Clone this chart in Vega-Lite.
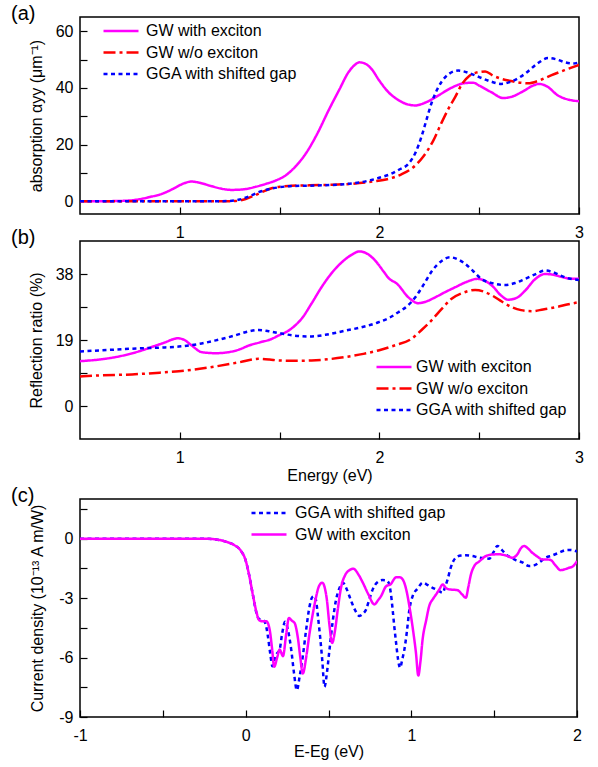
{
  "$schema": "https://vega.github.io/schema/vega-lite/v6.json",
  "background": "white",
  "padding": {"left": 10, "top": 3, "right": 5, "bottom": 5},
  "bounds": "flush",
  "spacing": 27,
  "config": {
    "font": "Liberation Sans",
    "view": {"stroke": "black", "strokeWidth": 1.5},
    "axis": {"labelFont": "Liberation Sans", "titleFont": "Liberation Sans", "labelFontSize": 16, "titleFontSize": 16, "titleFontWeight": "normal", "labelColor": "black", "titleColor": "black", "domain": false, "grid": false, "tickColor": "black", "tickSize": -7, "tickWidth": 1.2},
    "axisY": {"labelPadding": 14, "titlePadding": 11},
    "axisX": {"labelPadding": 17, "titlePadding": 2, "labelFlush": false},
    "legend": {"title": null, "orient": "none", "labelFont": "Liberation Sans", "labelFontSize": 16, "labelColor": "black", "symbolType": "M-3.5,0H3.5", "symbolSize": 100, "symbolStrokeWidth": 2.5, "rowPadding": 5.5, "padding": 0},
    "title": {"font": "Liberation Sans", "fontSize": 20, "fontWeight": "normal", "color": "black", "anchor": "start", "frame": "group"}
  },
  "datasets": {
    "a": [
      {"E":0.5,"v":0,"s":"GW with exciton"},{"E":0.6,"v":0,"s":"GW with exciton"},{"E":0.7,"v":0.1,"s":"GW with exciton"},{"E":0.78,"v":0.5,"s":"GW with exciton"},{"E":0.85,"v":1.5,"s":"GW with exciton"},{"E":0.91,"v":2.6,"s":"GW with exciton"},{"E":0.97,"v":4.5,"s":"GW with exciton"},{"E":1.02,"v":6.3,"s":"GW with exciton"},{"E":1.06,"v":6.95,"s":"GW with exciton"},{"E":1.1,"v":6.5,"s":"GW with exciton"},{"E":1.16,"v":5.3,"s":"GW with exciton"},{"E":1.21,"v":4.4,"s":"GW with exciton"},{"E":1.26,"v":4.0,"s":"GW with exciton"},{"E":1.32,"v":4.2,"s":"GW with exciton"},{"E":1.38,"v":5.1,"s":"GW with exciton"},{"E":1.43,"v":6.1,"s":"GW with exciton"},{"E":1.48,"v":7.3,"s":"GW with exciton"},{"E":1.53,"v":9.1,"s":"GW with exciton"},{"E":1.58,"v":12.3,"s":"GW with exciton"},{"E":1.63,"v":16.7,"s":"GW with exciton"},{"E":1.69,"v":24,"s":"GW with exciton"},{"E":1.745,"v":32,"s":"GW with exciton"},{"E":1.8,"v":39.5,"s":"GW with exciton"},{"E":1.845,"v":45.5,"s":"GW with exciton"},{"E":1.875,"v":48,"s":"GW with exciton"},{"E":1.9,"v":49,"s":"GW with exciton"},{"E":1.93,"v":48.5,"s":"GW with exciton"},{"E":1.96,"v":46.7,"s":"GW with exciton"},{"E":2.0,"v":42.5,"s":"GW with exciton"},{"E":2.045,"v":38.5,"s":"GW with exciton"},{"E":2.1,"v":35.5,"s":"GW with exciton"},{"E":2.14,"v":34.2,"s":"GW with exciton"},{"E":2.18,"v":33.8,"s":"GW with exciton"},{"E":2.23,"v":34.8,"s":"GW with exciton"},{"E":2.295,"v":37.3,"s":"GW with exciton"},{"E":2.36,"v":40,"s":"GW with exciton"},{"E":2.43,"v":41.7,"s":"GW with exciton"},{"E":2.47,"v":41.8,"s":"GW with exciton"},{"E":2.5,"v":40.8,"s":"GW with exciton"},{"E":2.56,"v":38.5,"s":"GW with exciton"},{"E":2.62,"v":36.4,"s":"GW with exciton"},{"E":2.66,"v":36.8,"s":"GW with exciton"},{"E":2.72,"v":38.8,"s":"GW with exciton"},{"E":2.77,"v":40.8,"s":"GW with exciton"},{"E":2.8,"v":41.4,"s":"GW with exciton"},{"E":2.84,"v":40.5,"s":"GW with exciton"},{"E":2.895,"v":37.3,"s":"GW with exciton"},{"E":2.95,"v":35.8,"s":"GW with exciton"},{"E":3.0,"v":35.3,"s":"GW with exciton"},
      {"E":0.5,"v":0,"s":"GW w/o exciton"},{"E":1.0,"v":0,"s":"GW w/o exciton"},{"E":1.2,"v":0,"s":"GW w/o exciton"},{"E":1.28,"v":0.1,"s":"GW w/o exciton"},{"E":1.33,"v":0.8,"s":"GW w/o exciton"},{"E":1.38,"v":2.2,"s":"GW w/o exciton"},{"E":1.42,"v":3.5,"s":"GW w/o exciton"},{"E":1.46,"v":4.6,"s":"GW w/o exciton"},{"E":1.51,"v":5.2,"s":"GW w/o exciton"},{"E":1.56,"v":5.5,"s":"GW w/o exciton"},{"E":1.65,"v":5.6,"s":"GW w/o exciton"},{"E":1.75,"v":5.8,"s":"GW w/o exciton"},{"E":1.85,"v":6.1,"s":"GW w/o exciton"},{"E":1.9,"v":6.4,"s":"GW w/o exciton"},{"E":1.97,"v":7.0,"s":"GW w/o exciton"},{"E":2.045,"v":7.9,"s":"GW w/o exciton"},{"E":2.11,"v":9.5,"s":"GW w/o exciton"},{"E":2.17,"v":12,"s":"GW w/o exciton"},{"E":2.22,"v":15.8,"s":"GW w/o exciton"},{"E":2.27,"v":21.4,"s":"GW w/o exciton"},{"E":2.31,"v":27.5,"s":"GW w/o exciton"},{"E":2.345,"v":32.5,"s":"GW w/o exciton"},{"E":2.38,"v":36.8,"s":"GW w/o exciton"},{"E":2.415,"v":41.5,"s":"GW w/o exciton"},{"E":2.45,"v":44.2,"s":"GW w/o exciton"},{"E":2.5,"v":45.6,"s":"GW w/o exciton"},{"E":2.53,"v":45.8,"s":"GW w/o exciton"},{"E":2.57,"v":44.3,"s":"GW w/o exciton"},{"E":2.61,"v":43.2,"s":"GW w/o exciton"},{"E":2.66,"v":42.4,"s":"GW w/o exciton"},{"E":2.745,"v":41.6,"s":"GW w/o exciton"},{"E":2.8,"v":42.6,"s":"GW w/o exciton"},{"E":2.86,"v":44.4,"s":"GW w/o exciton"},{"E":2.93,"v":46.3,"s":"GW w/o exciton"},{"E":3.0,"v":48.1,"s":"GW w/o exciton"},
      {"E":0.5,"v":0,"s":"GGA with shifted gap"},{"E":1.2,"v":0,"s":"GGA with shifted gap"},{"E":1.25,"v":0.1,"s":"GGA with shifted gap"},{"E":1.3,"v":0.6,"s":"GGA with shifted gap"},{"E":1.35,"v":1.8,"s":"GGA with shifted gap"},{"E":1.395,"v":3.2,"s":"GGA with shifted gap"},{"E":1.45,"v":4.3,"s":"GGA with shifted gap"},{"E":1.495,"v":4.9,"s":"GGA with shifted gap"},{"E":1.55,"v":5.3,"s":"GGA with shifted gap"},{"E":1.65,"v":5.5,"s":"GGA with shifted gap"},{"E":1.75,"v":5.7,"s":"GGA with shifted gap"},{"E":1.85,"v":6.2,"s":"GGA with shifted gap"},{"E":1.9,"v":6.6,"s":"GGA with shifted gap"},{"E":1.96,"v":7.5,"s":"GGA with shifted gap"},{"E":2.01,"v":8.5,"s":"GGA with shifted gap"},{"E":2.06,"v":9.7,"s":"GGA with shifted gap"},{"E":2.1,"v":11.2,"s":"GGA with shifted gap"},{"E":2.145,"v":13.2,"s":"GGA with shifted gap"},{"E":2.18,"v":17,"s":"GGA with shifted gap"},{"E":2.21,"v":22.6,"s":"GGA with shifted gap"},{"E":2.235,"v":28.5,"s":"GGA with shifted gap"},{"E":2.26,"v":34.4,"s":"GGA with shifted gap"},{"E":2.29,"v":39.5,"s":"GGA with shifted gap"},{"E":2.31,"v":42,"s":"GGA with shifted gap"},{"E":2.35,"v":45,"s":"GGA with shifted gap"},{"E":2.395,"v":46.1,"s":"GGA with shifted gap"},{"E":2.45,"v":45.2,"s":"GGA with shifted gap"},{"E":2.5,"v":43.8,"s":"GGA with shifted gap"},{"E":2.56,"v":42.2,"s":"GGA with shifted gap"},{"E":2.61,"v":41.4,"s":"GGA with shifted gap"},{"E":2.67,"v":42.5,"s":"GGA with shifted gap"},{"E":2.73,"v":45,"s":"GGA with shifted gap"},{"E":2.79,"v":48.5,"s":"GGA with shifted gap"},{"E":2.845,"v":50.5,"s":"GGA with shifted gap"},{"E":2.89,"v":50,"s":"GGA with shifted gap"},{"E":2.93,"v":49,"s":"GGA with shifted gap"},{"E":2.97,"v":48.6,"s":"GGA with shifted gap"},{"E":3.0,"v":49,"s":"GGA with shifted gap"}
    ],
    "b": [
      {"E":0.5,"v":12.9,"s":"GW with exciton"},{"E":0.6,"v":13.4,"s":"GW with exciton"},{"E":0.68,"v":14.1,"s":"GW with exciton"},{"E":0.75,"v":15,"s":"GW with exciton"},{"E":0.81,"v":16,"s":"GW with exciton"},{"E":0.87,"v":17.2,"s":"GW with exciton"},{"E":0.93,"v":18.4,"s":"GW with exciton"},{"E":0.97,"v":19.3,"s":"GW with exciton"},{"E":0.99,"v":19.5,"s":"GW with exciton"},{"E":1.02,"v":19.1,"s":"GW with exciton"},{"E":1.06,"v":17.4,"s":"GW with exciton"},{"E":1.11,"v":15.5,"s":"GW with exciton"},{"E":1.18,"v":15.2,"s":"GW with exciton"},{"E":1.245,"v":15.5,"s":"GW with exciton"},{"E":1.3,"v":16.3,"s":"GW with exciton"},{"E":1.345,"v":17.4,"s":"GW with exciton"},{"E":1.4,"v":18.3,"s":"GW with exciton"},{"E":1.46,"v":19.3,"s":"GW with exciton"},{"E":1.495,"v":20.3,"s":"GW with exciton"},{"E":1.545,"v":21.7,"s":"GW with exciton"},{"E":1.58,"v":23.3,"s":"GW with exciton"},{"E":1.61,"v":25.1,"s":"GW with exciton"},{"E":1.66,"v":29.5,"s":"GW with exciton"},{"E":1.71,"v":34.2,"s":"GW with exciton"},{"E":1.76,"v":38.2,"s":"GW with exciton"},{"E":1.81,"v":41.3,"s":"GW with exciton"},{"E":1.86,"v":43.5,"s":"GW with exciton"},{"E":1.9,"v":44.5,"s":"GW with exciton"},{"E":1.94,"v":43.8,"s":"GW with exciton"},{"E":1.98,"v":41.8,"s":"GW with exciton"},{"E":2.02,"v":38.8,"s":"GW with exciton"},{"E":2.045,"v":36.9,"s":"GW with exciton"},{"E":2.09,"v":35.1,"s":"GW with exciton"},{"E":2.145,"v":31.3,"s":"GW with exciton"},{"E":2.195,"v":29.6,"s":"GW with exciton"},{"E":2.24,"v":30.2,"s":"GW with exciton"},{"E":2.28,"v":31.3,"s":"GW with exciton"},{"E":2.33,"v":32.8,"s":"GW with exciton"},{"E":2.38,"v":34.2,"s":"GW with exciton"},{"E":2.44,"v":35.8,"s":"GW with exciton"},{"E":2.49,"v":36.6,"s":"GW with exciton"},{"E":2.53,"v":36.0,"s":"GW with exciton"},{"E":2.565,"v":34.6,"s":"GW with exciton"},{"E":2.61,"v":31.8,"s":"GW with exciton"},{"E":2.645,"v":30.6,"s":"GW with exciton"},{"E":2.69,"v":31.2,"s":"GW with exciton"},{"E":2.73,"v":33.2,"s":"GW with exciton"},{"E":2.78,"v":36.5,"s":"GW with exciton"},{"E":2.83,"v":38,"s":"GW with exciton"},{"E":2.87,"v":37.8,"s":"GW with exciton"},{"E":2.91,"v":37.2,"s":"GW with exciton"},{"E":2.95,"v":36.7,"s":"GW with exciton"},{"E":3.0,"v":36.6,"s":"GW with exciton"},
      {"E":0.5,"v":8.5,"s":"GW w/o exciton"},{"E":0.6,"v":8.8,"s":"GW w/o exciton"},{"E":0.76,"v":9.1,"s":"GW w/o exciton"},{"E":0.9,"v":9.6,"s":"GW w/o exciton"},{"E":0.995,"v":10,"s":"GW w/o exciton"},{"E":1.1,"v":10.7,"s":"GW w/o exciton"},{"E":1.18,"v":11.4,"s":"GW w/o exciton"},{"E":1.3,"v":12.6,"s":"GW w/o exciton"},{"E":1.395,"v":13.6,"s":"GW w/o exciton"},{"E":1.45,"v":13.4,"s":"GW w/o exciton"},{"E":1.495,"v":13.1,"s":"GW w/o exciton"},{"E":1.58,"v":13.0,"s":"GW w/o exciton"},{"E":1.66,"v":13.1,"s":"GW w/o exciton"},{"E":1.75,"v":13.5,"s":"GW w/o exciton"},{"E":1.83,"v":14.1,"s":"GW w/o exciton"},{"E":1.92,"v":15,"s":"GW w/o exciton"},{"E":1.995,"v":16,"s":"GW w/o exciton"},{"E":2.08,"v":17.5,"s":"GW w/o exciton"},{"E":2.16,"v":19.3,"s":"GW w/o exciton"},{"E":2.21,"v":21.8,"s":"GW w/o exciton"},{"E":2.26,"v":24.6,"s":"GW w/o exciton"},{"E":2.31,"v":27.8,"s":"GW w/o exciton"},{"E":2.36,"v":30.8,"s":"GW w/o exciton"},{"E":2.42,"v":32.6,"s":"GW w/o exciton"},{"E":2.48,"v":33.4,"s":"GW w/o exciton"},{"E":2.52,"v":33,"s":"GW w/o exciton"},{"E":2.565,"v":31.8,"s":"GW w/o exciton"},{"E":2.615,"v":30,"s":"GW w/o exciton"},{"E":2.665,"v":28.4,"s":"GW w/o exciton"},{"E":2.71,"v":27.6,"s":"GW w/o exciton"},{"E":2.765,"v":27.3,"s":"GW w/o exciton"},{"E":2.82,"v":27.8,"s":"GW w/o exciton"},{"E":2.88,"v":28.4,"s":"GW w/o exciton"},{"E":2.94,"v":29.2,"s":"GW w/o exciton"},{"E":3.0,"v":29.9,"s":"GW w/o exciton"},
      {"E":0.5,"v":15.7,"s":"GGA with shifted gap"},{"E":0.6,"v":16,"s":"GGA with shifted gap"},{"E":0.76,"v":16.5,"s":"GGA with shifted gap"},{"E":0.9,"v":16.8,"s":"GGA with shifted gap"},{"E":0.995,"v":17.1,"s":"GGA with shifted gap"},{"E":1.1,"v":17.9,"s":"GGA with shifted gap"},{"E":1.18,"v":18.9,"s":"GGA with shifted gap"},{"E":1.27,"v":20.2,"s":"GGA with shifted gap"},{"E":1.34,"v":21.4,"s":"GGA with shifted gap"},{"E":1.395,"v":21.9,"s":"GGA with shifted gap"},{"E":1.44,"v":21.6,"s":"GGA with shifted gap"},{"E":1.495,"v":21,"s":"GGA with shifted gap"},{"E":1.57,"v":20.3,"s":"GGA with shifted gap"},{"E":1.645,"v":20,"s":"GGA with shifted gap"},{"E":1.73,"v":20.5,"s":"GGA with shifted gap"},{"E":1.83,"v":21.7,"s":"GGA with shifted gap"},{"E":1.92,"v":22.8,"s":"GGA with shifted gap"},{"E":1.995,"v":24.1,"s":"GGA with shifted gap"},{"E":2.05,"v":25.4,"s":"GGA with shifted gap"},{"E":2.095,"v":27,"s":"GGA with shifted gap"},{"E":2.14,"v":28.8,"s":"GGA with shifted gap"},{"E":2.18,"v":31.3,"s":"GGA with shifted gap"},{"E":2.22,"v":34.8,"s":"GGA with shifted gap"},{"E":2.265,"v":39,"s":"GGA with shifted gap"},{"E":2.31,"v":41.7,"s":"GGA with shifted gap"},{"E":2.355,"v":42.8,"s":"GGA with shifted gap"},{"E":2.39,"v":42.3,"s":"GGA with shifted gap"},{"E":2.43,"v":40.9,"s":"GGA with shifted gap"},{"E":2.47,"v":38.8,"s":"GGA with shifted gap"},{"E":2.51,"v":36.6,"s":"GGA with shifted gap"},{"E":2.57,"v":35.3,"s":"GGA with shifted gap"},{"E":2.63,"v":34.8,"s":"GGA with shifted gap"},{"E":2.68,"v":35.4,"s":"GGA with shifted gap"},{"E":2.73,"v":36.6,"s":"GGA with shifted gap"},{"E":2.78,"v":37.9,"s":"GGA with shifted gap"},{"E":2.83,"v":39,"s":"GGA with shifted gap"},{"E":2.87,"v":38.5,"s":"GGA with shifted gap"},{"E":2.91,"v":37.5,"s":"GGA with shifted gap"},{"E":2.95,"v":36.7,"s":"GGA with shifted gap"},{"E":3.0,"v":36.3,"s":"GGA with shifted gap"}
    ],
    "c": [
      {"E":-1,"v":0,"s":"GGA with shifted gap"},{"E":-0.5,"v":0,"s":"GGA with shifted gap"},{"E":-0.25,"v":0,"s":"GGA with shifted gap"},{"E":-0.18,"v":-0.04,"s":"GGA with shifted gap"},{"E":-0.12,"v":-0.15,"s":"GGA with shifted gap"},{"E":-0.07,"v":-0.32,"s":"GGA with shifted gap"},{"E":-0.03,"v":-0.6,"s":"GGA with shifted gap"},{"E":0.0,"v":-1.1,"s":"GGA with shifted gap"},{"E":0.02,"v":-1.8,"s":"GGA with shifted gap"},{"E":0.045,"v":-2.9,"s":"GGA with shifted gap"},{"E":0.065,"v":-3.75,"s":"GGA with shifted gap"},{"E":0.08,"v":-4.05,"s":"GGA with shifted gap"},{"E":0.104,"v":-4.1,"s":"GGA with shifted gap"},{"E":0.12,"v":-4.3,"s":"GGA with shifted gap"},{"E":0.134,"v":-4.92,"s":"GGA with shifted gap"},{"E":0.15,"v":-5.9,"s":"GGA with shifted gap"},{"E":0.161,"v":-6.44,"s":"GGA with shifted gap"},{"E":0.175,"v":-6.1,"s":"GGA with shifted gap"},{"E":0.185,"v":-5.85,"s":"GGA with shifted gap"},{"E":0.205,"v":-5.6,"s":"GGA with shifted gap"},{"E":0.22,"v":-4.8,"s":"GGA with shifted gap"},{"E":0.238,"v":-4.2,"s":"GGA with shifted gap"},{"E":0.255,"v":-4.6,"s":"GGA with shifted gap"},{"E":0.275,"v":-5.6,"s":"GGA with shifted gap"},{"E":0.292,"v":-6.8,"s":"GGA with shifted gap"},{"E":0.309,"v":-7.65,"s":"GGA with shifted gap"},{"E":0.325,"v":-7.0,"s":"GGA with shifted gap"},{"E":0.345,"v":-5.93,"s":"GGA with shifted gap"},{"E":0.365,"v":-4.6,"s":"GGA with shifted gap"},{"E":0.386,"v":-3.4,"s":"GGA with shifted gap"},{"E":0.402,"v":-2.95,"s":"GGA with shifted gap"},{"E":0.416,"v":-2.9,"s":"GGA with shifted gap"},{"E":0.428,"v":-3.3,"s":"GGA with shifted gap"},{"E":0.436,"v":-3.9,"s":"GGA with shifted gap"},{"E":0.45,"v":-5.0,"s":"GGA with shifted gap"},{"E":0.462,"v":-6.1,"s":"GGA with shifted gap"},{"E":0.476,"v":-7.48,"s":"GGA with shifted gap"},{"E":0.49,"v":-6.8,"s":"GGA with shifted gap"},{"E":0.506,"v":-5.6,"s":"GGA with shifted gap"},{"E":0.525,"v":-4.2,"s":"GGA with shifted gap"},{"E":0.546,"v":-3.07,"s":"GGA with shifted gap"},{"E":0.566,"v":-2.5,"s":"GGA with shifted gap"},{"E":0.586,"v":-2.22,"s":"GGA with shifted gap"},{"E":0.61,"v":-2.55,"s":"GGA with shifted gap"},{"E":0.637,"v":-3.15,"s":"GGA with shifted gap"},{"E":0.66,"v":-3.6,"s":"GGA with shifted gap"},{"E":0.687,"v":-3.9,"s":"GGA with shifted gap"},{"E":0.707,"v":-3.8,"s":"GGA with shifted gap"},{"E":0.727,"v":-3.57,"s":"GGA with shifted gap"},{"E":0.745,"v":-3.1,"s":"GGA with shifted gap"},{"E":0.767,"v":-2.56,"s":"GGA with shifted gap"},{"E":0.795,"v":-2.2,"s":"GGA with shifted gap"},{"E":0.827,"v":-2.09,"s":"GGA with shifted gap"},{"E":0.845,"v":-2.1,"s":"GGA with shifted gap"},{"E":0.863,"v":-2.22,"s":"GGA with shifted gap"},{"E":0.877,"v":-2.8,"s":"GGA with shifted gap"},{"E":0.887,"v":-3.57,"s":"GGA with shifted gap"},{"E":0.898,"v":-4.5,"s":"GGA with shifted gap"},{"E":0.908,"v":-5.26,"s":"GGA with shifted gap"},{"E":0.92,"v":-6.1,"s":"GGA with shifted gap"},{"E":0.932,"v":-6.52,"s":"GGA with shifted gap"},{"E":0.945,"v":-6.1,"s":"GGA with shifted gap"},{"E":0.958,"v":-5.6,"s":"GGA with shifted gap"},{"E":0.973,"v":-4.7,"s":"GGA with shifted gap"},{"E":0.988,"v":-3.6,"s":"GGA with shifted gap"},{"E":1.008,"v":-2.9,"s":"GGA with shifted gap"},{"E":1.04,"v":-2.5,"s":"GGA with shifted gap"},{"E":1.068,"v":-2.22,"s":"GGA with shifted gap"},{"E":1.1,"v":-2.35,"s":"GGA with shifted gap"},{"E":1.128,"v":-2.48,"s":"GGA with shifted gap"},{"E":1.16,"v":-2.6,"s":"GGA with shifted gap"},{"E":1.189,"v":-2.73,"s":"GGA with shifted gap"},{"E":1.205,"v":-2.4,"s":"GGA with shifted gap"},{"E":1.219,"v":-2.06,"s":"GGA with shifted gap"},{"E":1.235,"v":-1.55,"s":"GGA with shifted gap"},{"E":1.249,"v":-1.21,"s":"GGA with shifted gap"},{"E":1.27,"v":-0.95,"s":"GGA with shifted gap"},{"E":1.3,"v":-0.85,"s":"GGA with shifted gap"},{"E":1.329,"v":-0.84,"s":"GGA with shifted gap"},{"E":1.37,"v":-0.88,"s":"GGA with shifted gap"},{"E":1.41,"v":-0.96,"s":"GGA with shifted gap"},{"E":1.44,"v":-0.98,"s":"GGA with shifted gap"},{"E":1.47,"v":-1.01,"s":"GGA with shifted gap"},{"E":1.495,"v":-0.7,"s":"GGA with shifted gap"},{"E":1.52,"v":-0.37,"s":"GGA with shifted gap"},{"E":1.545,"v":-0.55,"s":"GGA with shifted gap"},{"E":1.57,"v":-0.79,"s":"GGA with shifted gap"},{"E":1.6,"v":-0.95,"s":"GGA with shifted gap"},{"E":1.63,"v":-1.08,"s":"GGA with shifted gap"},{"E":1.67,"v":-1.2,"s":"GGA with shifted gap"},{"E":1.711,"v":-1.38,"s":"GGA with shifted gap"},{"E":1.74,"v":-1.35,"s":"GGA with shifted gap"},{"E":1.771,"v":-1.21,"s":"GGA with shifted gap"},{"E":1.811,"v":-0.96,"s":"GGA with shifted gap"},{"E":1.85,"v":-0.85,"s":"GGA with shifted gap"},{"E":1.892,"v":-0.71,"s":"GGA with shifted gap"},{"E":1.932,"v":-0.58,"s":"GGA with shifted gap"},{"E":1.96,"v":-0.57,"s":"GGA with shifted gap"},{"E":2.0,"v":-0.65,"s":"GGA with shifted gap"},
      {"E":-1,"v":0,"s":"GW with exciton"},{"E":-0.5,"v":0,"s":"GW with exciton"},{"E":-0.25,"v":0,"s":"GW with exciton"},{"E":-0.18,"v":-0.04,"s":"GW with exciton"},{"E":-0.12,"v":-0.15,"s":"GW with exciton"},{"E":-0.07,"v":-0.32,"s":"GW with exciton"},{"E":-0.03,"v":-0.6,"s":"GW with exciton"},{"E":0.0,"v":-1.1,"s":"GW with exciton"},{"E":0.02,"v":-1.8,"s":"GW with exciton"},{"E":0.045,"v":-2.9,"s":"GW with exciton"},{"E":0.065,"v":-3.7,"s":"GW with exciton"},{"E":0.08,"v":-4.1,"s":"GW with exciton"},{"E":0.1,"v":-4.17,"s":"GW with exciton"},{"E":0.125,"v":-4.17,"s":"GW with exciton"},{"E":0.145,"v":-4.6,"s":"GW with exciton"},{"E":0.16,"v":-5.6,"s":"GW with exciton"},{"E":0.172,"v":-6.47,"s":"GW with exciton"},{"E":0.19,"v":-6.0,"s":"GW with exciton"},{"E":0.205,"v":-5.6,"s":"GW with exciton"},{"E":0.225,"v":-5.93,"s":"GW with exciton"},{"E":0.245,"v":-4.8,"s":"GW with exciton"},{"E":0.261,"v":-4.0,"s":"GW with exciton"},{"E":0.28,"v":-4.15,"s":"GW with exciton"},{"E":0.295,"v":-4.25,"s":"GW with exciton"},{"E":0.315,"v":-5.0,"s":"GW with exciton"},{"E":0.33,"v":-6.0,"s":"GW with exciton"},{"E":0.345,"v":-6.81,"s":"GW with exciton"},{"E":0.365,"v":-6.0,"s":"GW with exciton"},{"E":0.386,"v":-4.75,"s":"GW with exciton"},{"E":0.405,"v":-3.8,"s":"GW with exciton"},{"E":0.422,"v":-3.07,"s":"GW with exciton"},{"E":0.44,"v":-2.45,"s":"GW with exciton"},{"E":0.462,"v":-2.22,"s":"GW with exciton"},{"E":0.478,"v":-2.5,"s":"GW with exciton"},{"E":0.49,"v":-3.07,"s":"GW with exciton"},{"E":0.505,"v":-4.3,"s":"GW with exciton"},{"E":0.522,"v":-5.26,"s":"GW with exciton"},{"E":0.54,"v":-4.6,"s":"GW with exciton"},{"E":0.556,"v":-3.57,"s":"GW with exciton"},{"E":0.575,"v":-2.5,"s":"GW with exciton"},{"E":0.6,"v":-1.85,"s":"GW with exciton"},{"E":0.625,"v":-1.6,"s":"GW with exciton"},{"E":0.651,"v":-1.52,"s":"GW with exciton"},{"E":0.68,"v":-1.8,"s":"GW with exciton"},{"E":0.707,"v":-2.22,"s":"GW with exciton"},{"E":0.74,"v":-2.8,"s":"GW with exciton"},{"E":0.777,"v":-3.32,"s":"GW with exciton"},{"E":0.8,"v":-3.1,"s":"GW with exciton"},{"E":0.817,"v":-2.9,"s":"GW with exciton"},{"E":0.848,"v":-2.4,"s":"GW with exciton"},{"E":0.875,"v":-2.3,"s":"GW with exciton"},{"E":0.908,"v":-1.95,"s":"GW with exciton"},{"E":0.93,"v":-1.95,"s":"GW with exciton"},{"E":0.948,"v":-2.06,"s":"GW with exciton"},{"E":0.97,"v":-2.6,"s":"GW with exciton"},{"E":0.988,"v":-3.4,"s":"GW with exciton"},{"E":1.01,"v":-4.6,"s":"GW with exciton"},{"E":1.028,"v":-5.77,"s":"GW with exciton"},{"E":1.042,"v":-6.91,"s":"GW with exciton"},{"E":1.055,"v":-6.2,"s":"GW with exciton"},{"E":1.068,"v":-5.09,"s":"GW with exciton"},{"E":1.09,"v":-4.1,"s":"GW with exciton"},{"E":1.108,"v":-3.4,"s":"GW with exciton"},{"E":1.13,"v":-3.05,"s":"GW with exciton"},{"E":1.149,"v":-2.82,"s":"GW with exciton"},{"E":1.17,"v":-2.55,"s":"GW with exciton"},{"E":1.189,"v":-2.31,"s":"GW with exciton"},{"E":1.21,"v":-2.5,"s":"GW with exciton"},{"E":1.229,"v":-2.56,"s":"GW with exciton"},{"E":1.255,"v":-2.58,"s":"GW with exciton"},{"E":1.279,"v":-2.6,"s":"GW with exciton"},{"E":1.305,"v":-2.8,"s":"GW with exciton"},{"E":1.329,"v":-2.98,"s":"GW with exciton"},{"E":1.345,"v":-2.4,"s":"GW with exciton"},{"E":1.36,"v":-1.8,"s":"GW with exciton"},{"E":1.38,"v":-1.38,"s":"GW with exciton"},{"E":1.41,"v":-1.15,"s":"GW with exciton"},{"E":1.45,"v":-0.88,"s":"GW with exciton"},{"E":1.49,"v":-0.8,"s":"GW with exciton"},{"E":1.53,"v":-0.79,"s":"GW with exciton"},{"E":1.57,"v":-0.85,"s":"GW with exciton"},{"E":1.61,"v":-0.96,"s":"GW with exciton"},{"E":1.64,"v":-0.79,"s":"GW with exciton"},{"E":1.66,"v":-0.5,"s":"GW with exciton"},{"E":1.681,"v":-0.37,"s":"GW with exciton"},{"E":1.705,"v":-0.5,"s":"GW with exciton"},{"E":1.73,"v":-0.71,"s":"GW with exciton"},{"E":1.76,"v":-0.9,"s":"GW with exciton"},{"E":1.791,"v":-1.05,"s":"GW with exciton"},{"E":1.815,"v":-1.05,"s":"GW with exciton"},{"E":1.841,"v":-1.08,"s":"GW with exciton"},{"E":1.87,"v":-1.35,"s":"GW with exciton"},{"E":1.901,"v":-1.59,"s":"GW with exciton"},{"E":1.925,"v":-1.55,"s":"GW with exciton"},{"E":1.952,"v":-1.47,"s":"GW with exciton"},{"E":1.975,"v":-1.4,"s":"GW with exciton"},{"E":2.0,"v":-1.13,"s":"GW with exciton"}
    ]
  },
  "vconcat": [
    {
      "width": 499, "height": 197,
      "title": {"text": "(a)", "dx": -69, "dy": 11},
      "data": {"name": "a"},
      "mark": {"type": "line", "interpolate": "monotone", "strokeWidth": 2.5, "clip": true},
      "encoding": {
        "x": {"field": "E", "type": "quantitative", "scale": {"domain": [0.5, 3], "nice": false, "zero": false}, "axis": {"values": [1, 1.5, 2, 2.5, 3], "labelExpr": "datum.value % 1 === 0 ? toString(datum.value) : ''", "title": null}},
        "y": {"field": "v", "type": "quantitative", "scale": {"domain": [-4.5, 65], "nice": false}, "axis": {"values": [0, 10, 20, 30, 40, 50, 60], "labelExpr": "datum.value % 20 === 0 ? datum.label : ''", "title": "absorption αyy (μm⁻¹)"}},
        "color": {"field": "s", "type": "nominal", "scale": {"domain": ["GW with exciton", "GW w/o exciton", "GGA with shifted gap"], "range": ["#ff00ff", "#ff0000", "#0000ff"]}, "legend": {"legendX": 33, "legendY": 6, "labelOffset": 17}},
        "strokeDash": {"field": "s", "type": "nominal", "scale": {"domain": ["GW with exciton", "GW w/o exciton", "GGA with shifted gap"], "range": [[1, 0], [12, 4, 3, 4], [4, 3.5]]}, "legend": {"legendX": 33, "legendY": 6, "labelOffset": 17}}
      }
    },
    {
      "width": 499, "height": 198,
      "title": {"text": "(b)", "dx": -69, "dy": 11},
      "data": {"name": "b"},
      "mark": {"type": "line", "interpolate": "monotone", "strokeWidth": 2.5, "clip": true},
      "encoding": {
        "x": {"field": "E", "type": "quantitative", "scale": {"domain": [0.5, 3], "nice": false, "zero": false}, "axis": {"values": [1, 1.5, 2, 2.5, 3], "labelExpr": "datum.value % 1 === 0 ? toString(datum.value) : ''", "title": "Energy (eV)"}},
        "y": {"field": "v", "type": "quantitative", "scale": {"domain": [-9.5, 47.5], "nice": false, "zero": false}, "axis": {"values": [0, 9.5, 19, 28.5, 38], "labelExpr": "datum.value % 19 === 0 ? datum.label : ''", "title": "Reflection ratio (%)"}},
        "color": {"field": "s", "type": "nominal", "scale": {"domain": ["GW with exciton", "GW w/o exciton", "GGA with shifted gap"], "range": ["#ff00ff", "#ff0000", "#0000ff"]}, "legend": {"legendX": 306, "legendY": 118, "labelOffset": 14}},
        "strokeDash": {"field": "s", "type": "nominal", "scale": {"domain": ["GW with exciton", "GW w/o exciton", "GGA with shifted gap"], "range": [[1, 0], [12, 4, 3, 4], [4, 3.5]]}, "legend": {"legendX": 306, "legendY": 118, "labelOffset": 14}}
      }
    },
    {
      "width": 499, "height": 6,
      "data": {"values": []},
      "mark": {"type": "point"},
      "view": {"stroke": null}
    },
    {
      "width": 497, "height": 218,
      "title": {"text": "(c)", "dx": -69, "dy": 11},
      "data": {"name": "c"},
      "mark": {"type": "line", "interpolate": "monotone", "strokeWidth": 2.5, "clip": true},
      "encoding": {
        "x": {"field": "E", "type": "quantitative", "scale": {"domain": [-1, 2], "nice": false, "zero": false}, "axis": {"values": [-1, -0.5, 0, 0.5, 1, 1.5, 2], "labelExpr": "datum.value % 1 === 0 ? toString(datum.value) : ''", "title": "E-Eg (eV)", "titlePadding": 0}},
        "y": {"field": "v", "type": "quantitative", "scale": {"domain": [-9, 2], "nice": false, "zero": false}, "axis": {"values": [-9, -7.5, -6, -4.5, -3, -1.5, 0, 1.5], "labelExpr": "datum.value % 3 === 0 ? toString(datum.value) : ''", "title": "Current density (10⁻¹³ A m/W)", "titlePadding": 13}},
        "color": {"field": "s", "type": "nominal", "scale": {"domain": ["GGA with shifted gap", "GW with exciton"], "range": ["#0000ff", "#ff00ff"]}, "legend": {"legendX": 181, "legendY": 6, "labelOffset": 18}},
        "strokeDash": {"field": "s", "type": "nominal", "scale": {"domain": ["GGA with shifted gap", "GW with exciton"], "range": [[4, 3.5], [1, 0]]}, "legend": {"legendX": 181, "legendY": 6, "labelOffset": 18}}
      }
    }
  ],
  "resolve": {"scale": {"color": "independent", "strokeDash": "independent", "x": "independent", "y": "independent"}, "legend": {"color": "independent", "strokeDash": "independent"}}
}
